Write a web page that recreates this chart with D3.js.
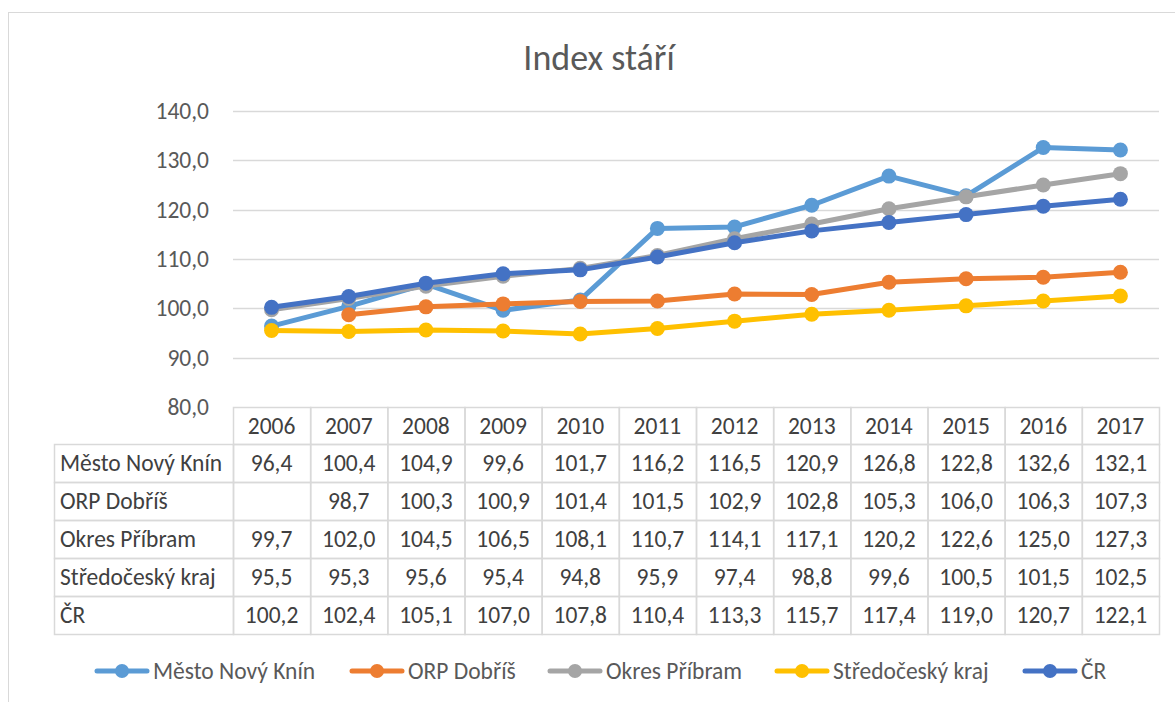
<!DOCTYPE html>
<html><head><meta charset="utf-8">
<script src="https://cdn.jsdelivr.net/npm/d3@7"></script>
<style>body{margin:0;background:#fff}svg{display:block}</style>
</head><body>
<svg id="c" width="1175" height="702"></svg>
<script>
const years = ["2006","2007","2008","2009","2010","2011","2012","2013","2014","2015","2016","2017"];
const seriesNames = ["Město Nový Knín","ORP Dobříš","Okres Příbram","Středočeský kraj","ČR"];
const mesto = [96.4,100.4,104.9,99.6,101.7,116.2,116.5,120.9,126.8,122.8,132.6,132.1];
const orp = [null,98.7,100.3,100.9,101.4,101.5,102.9,102.8,105.3,106.0,106.3,107.3];
const okres = [99.7,102.0,104.5,106.5,108.1,110.7,114.1,117.1,120.2,122.6,125.0,127.3];
const stredocesky = [95.5,95.3,95.6,95.4,94.8,95.9,97.4,98.8,99.6,100.5,101.5,102.5];
const cr = [100.2,102.4,105.1,107.0,107.8,110.4,113.3,115.7,117.4,119.0,120.7,122.1];
const yTicks = [80,90,100,110,120,130,140];
const colors = ["#5B9BD5","#ED7D31","#A5A5A5","#FFC000","#4472C4"];
const data = [mesto, orp, okres, stredocesky, cr];

const font = "Carlito, Lato, 'Open Sans', sans-serif";
const fs = 23.5;
const fmt = v => v == null ? "" : d3.format(".1f")(v).replace(".", ",");

const svg = d3.select("#c");
svg.append("rect").attr("x",8.5).attr("y",12.5).attr("width",1180).attr("height",700)
  .attr("fill","#fff").attr("stroke","#d9d9d9").attr("stroke-width",1);

svg.append("text").attr("x",599).attr("y",70).attr("text-anchor","middle")
  .attr("font-family",font).attr("font-size",36).attr("fill","#595959").text("Index stáří");

const pLeft = 233, pRight = 1159, pTop = 111, pBottom = 407;
const x = d3.scaleBand().domain(years).range([pLeft,pRight]);
const y = d3.scaleLinear().domain([80,140]).range([pBottom,pTop]);

// gridlines
svg.append("g").selectAll("line").data(yTicks.filter(t=>t>80)).join("line")
  .attr("x1",pLeft).attr("x2",pRight).attr("y1",d=>Math.round(y(d))+0.5).attr("y2",d=>Math.round(y(d))+0.5)
  .attr("stroke","#d9d9d9").attr("stroke-width",1.3);

// y axis labels
const yAxis = d3.axisLeft(y).tickValues(yTicks).tickSize(0).tickPadding(0).tickFormat(fmt);
const ga = svg.append("g").attr("transform",`translate(${209},0)`).call(yAxis);
ga.select(".domain").remove();
ga.selectAll("text").attr("font-family",font).attr("font-size",fs).attr("fill","#595959");

// table
const rowH = 38, headTop = 407, headBot = 444, labelLeft = 54;
const tg = svg.append("g");
const gridCol = "#d9d9d9";
const tc = "#404040";
tg.selectAll(".hc").data(years).join("rect").attr("class","hc")
  .attr("x",d=>x(d)+0.5).attr("y",headTop+0.5).attr("width",x.bandwidth()).attr("height",headBot-headTop)
  .attr("fill","none").attr("stroke",gridCol).attr("stroke-width",1.5);
tg.selectAll(".ht").data(years).join("text").attr("class","ht")
  .attr("x",d=>x(d)+x.bandwidth()/2).attr("y",(headTop+headBot)/2).attr("dy","0.35em")
  .attr("text-anchor","middle").attr("font-family",font).attr("font-size",fs).attr("fill",tc).text(d=>d);
seriesNames.forEach((name,i)=>{
  const ry = headBot + i*rowH;
  tg.append("rect").attr("x",labelLeft+0.5).attr("y",ry+0.5).attr("width",pLeft-labelLeft).attr("height",rowH)
    .attr("fill","none").attr("stroke",gridCol).attr("stroke-width",1.5);
  tg.append("text").attr("x",labelLeft+6).attr("y",ry+rowH/2).attr("dy","0.35em")
    .attr("font-family",font).attr("font-size",fs).attr("fill",tc).text(name);
  years.forEach((yr,j)=>{
    tg.append("rect").attr("x",x(yr)+0.5).attr("y",ry+0.5).attr("width",x.bandwidth()).attr("height",rowH)
      .attr("fill","none").attr("stroke",gridCol).attr("stroke-width",1.5);
    tg.append("text").attr("x",x(yr)+x.bandwidth()/2).attr("y",ry+rowH/2).attr("dy","0.35em")
      .attr("text-anchor","middle").attr("font-family",font).attr("font-size",fs).attr("fill",tc)
      .text(fmt(data[i][j]));
  });
});

// lines
const line = d3.line().defined(d=>d.v!=null).x(d=>x(d.yr)+x.bandwidth()/2).y(d=>y(d.v));
data.forEach((arr,i)=>{
  const pts = years.map((yr,j)=>({yr, v:arr[j]}));
  const g = svg.append("g");
  g.append("path").datum(pts).attr("d",line).attr("fill","none").attr("stroke",colors[i])
    .attr("stroke-width",5).attr("stroke-linejoin","round").attr("stroke-linecap","round");
  g.selectAll("circle").data(pts.filter(p=>p.v!=null)).join("circle")
    .attr("cx",d=>x(d.yr)+x.bandwidth()/2).attr("cy",d=>y(d.v)).attr("r",7.5).attr("fill",colors[i]);
});

// legend
const legX = [97,352,550,777,1025];
const ly = 671;
seriesNames.forEach((name,i)=>{
  const g = svg.append("g");
  g.append("line").attr("x1",legX[i]).attr("x2",legX[i]+50).attr("y1",ly).attr("y2",ly)
    .attr("stroke",colors[i]).attr("stroke-width",5).attr("stroke-linecap","round");
  g.append("circle").attr("cx",legX[i]+25).attr("cy",ly).attr("r",7).attr("fill",colors[i]);
  g.append("text").attr("x",legX[i]+56).attr("y",ly).attr("dy","0.35em")
    .attr("font-family",font).attr("font-size",fs).attr("fill","#595959").text(name);
});
</script>
</body></html>
